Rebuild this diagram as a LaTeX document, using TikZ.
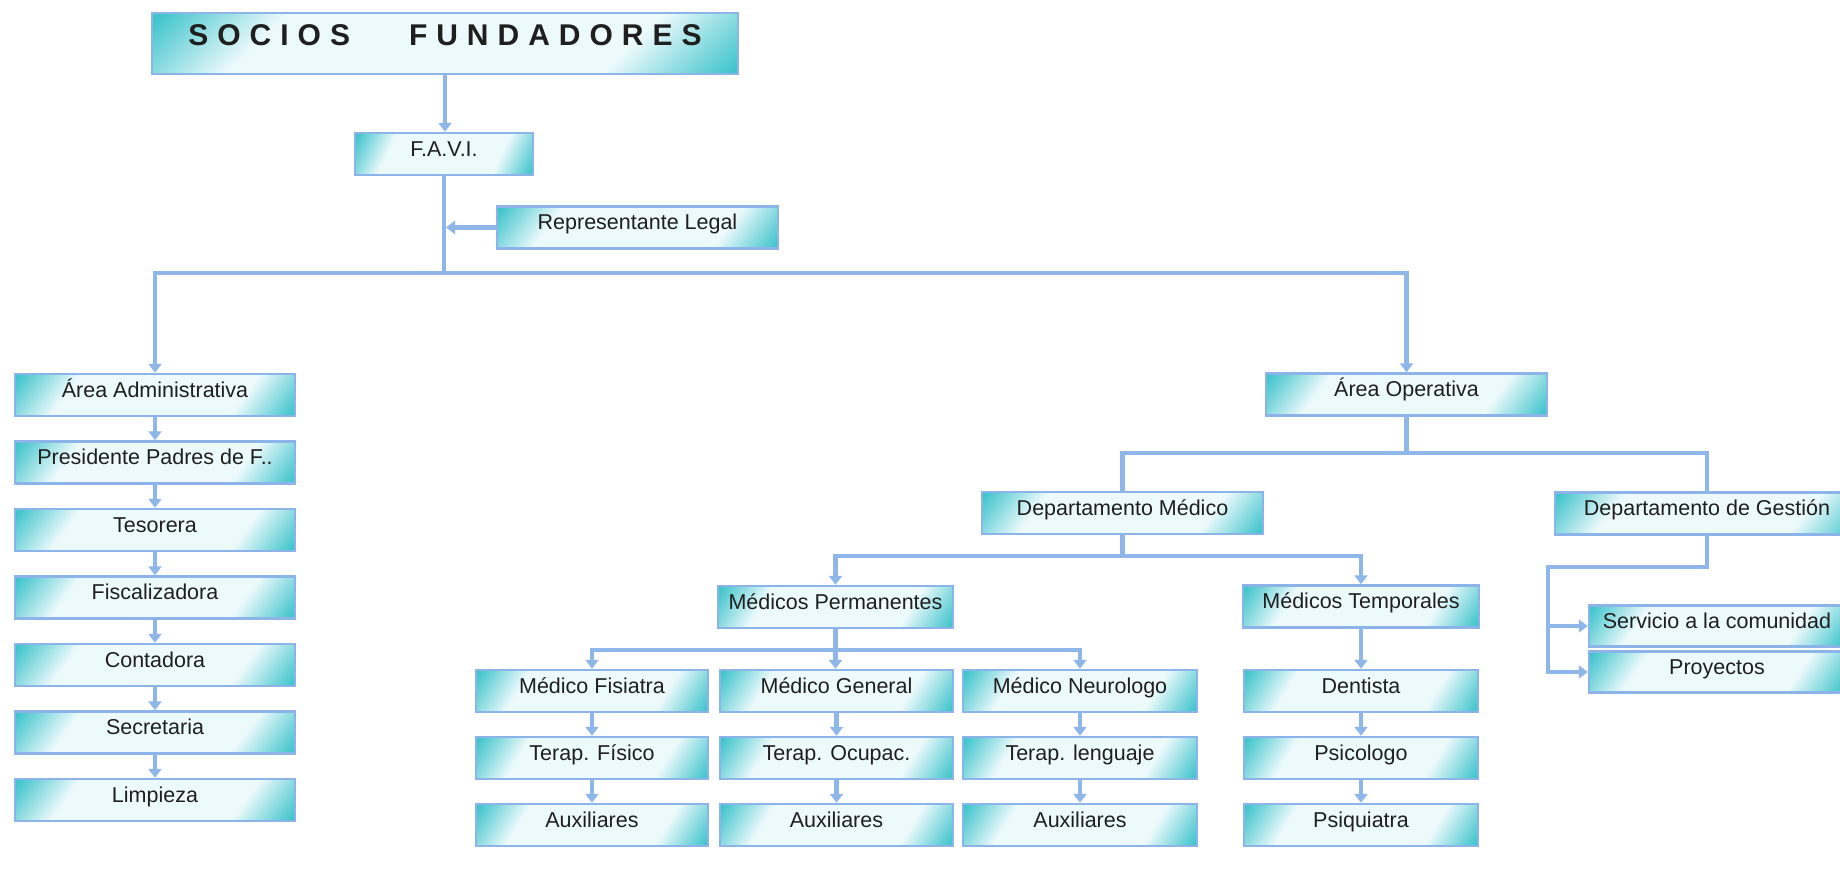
\documentclass[tikz,border=0pt]{standalone}
\usepackage{fontspec}
\setmainfont{Liberation Sans}
\newfontfamily\titlefont[LetterSpace=30]{Liberation Sans}
\usetikzlibrary{arrows.meta}
\definecolor{lnblue}{RGB}{142,182,232}
\definecolor{bdblue}{RGB}{140,180,232}
% diagonal teal - white - teal fill (visible part of a TikZ shading is 25bp..75bp)
\pgfdeclarefunctionalshading{boxf}{\pgfpoint{0bp}{0bp}}{\pgfpoint{100bp}{100bp}}{}{
  50 sub 0.11 mul sub
  dup 34 lt {34 exch sub 11 div} {dup 66 gt {66 sub 11 div} {pop 0} ifelse} ifelse
  dup 1 gt {pop 1} if
  dup 0.25 0.93 sub mul 0.93 add
  exch dup 0.77 0.98 sub mul 0.98 add
  exch 0.80 0.99 sub mul 0.99 add
}
\begin{document}
\begin{tikzpicture}[x=1pt,y=-1pt,
  box/.style={draw=bdblue, line width=2.5pt, shading=boxf,
    minimum height=42pt, inner sep=0pt, text height=10pt, text depth=6pt,
    font=\fontsize{21.5}{24}\selectfont, text=black!88},
  ln/.style={draw=lnblue, line width=4.5pt, line cap=rect},
  arr/.style={draw=lnblue, line width=4.5pt, -{Triangle[width=13pt,length=9pt]}},
]
\useasboundingbox (0,0) rectangle (1840,875);
\fill[white] (0,0) rectangle (1840,875);
\clip (0,0) rectangle (1840,875);

% top
\node[box, minimum width=586pt, minimum height=61pt, text height=12pt, text depth=7pt,
  font=\titlefont\bfseries\fontsize{30}{34}\selectfont] (soc) at (445,43.5) {SOCIOS\hspace{59pt}FUNDADORES};
\node[box, minimum width=178pt] (favi) at (444,154) {F.A.V.I.};
\node[box, minimum width=281pt] (rep) at (637.5,227.5) {Representante Legal};

% left column
\node[box, minimum width=280pt] (aadm) at (155,395) {Área Administrativa};
\node[box, minimum width=280pt] (pres) at (155,462.5) {Presidente Padres de F..};
\node[box, minimum width=280pt] (tes) at (155,530) {Tesorera};
\node[box, minimum width=280pt] (fis) at (155,597.5) {Fiscalizadora};
\node[box, minimum width=280pt] (cont) at (155,665) {Contadora};
\node[box, minimum width=280pt] (sec) at (155,732.5) {Secretaria};
\node[box, minimum width=280pt] (limp) at (155,800) {Limpieza};

% operative area
\node[box, minimum width=281pt] (aop) at (1406.5,394.5) {Área Operativa};
\node[box, minimum width=281pt] (dmed) at (1122.5,513) {Departamento Médico};
\node[box, minimum width=304pt] (dges) at (1707,513.5) {Departamento de Gestión};
\node[box, minimum width=235pt] (mperm) at (835.5,607) {Médicos Permanentes};
\node[box, minimum width=236pt] (mtemp) at (1361,606.5) {Médicos Temporales};

\node[box, minimum width=232pt] (mfis) at (592,691) {Médico Fisiatra};
\node[box, minimum width=233pt] (mgen) at (836.5,691) {Médico General};
\node[box, minimum width=234pt] (mneu) at (1080,691) {Médico Neurologo};
\node[box, minimum width=232pt] (tfis) at (592,758) {Terap. Físico};
\node[box, minimum width=233pt] (tocu) at (836.5,758) {Terap. Ocupac.};
\node[box, minimum width=234pt] (tlen) at (1080,758) {Terap. lenguaje};
\node[box, minimum width=232pt] (aux1) at (592,825) {Auxiliares};
\node[box, minimum width=233pt] (aux2) at (836.5,825) {Auxiliares};
\node[box, minimum width=234pt] (aux3) at (1080,825) {Auxiliares};

\node[box, minimum width=234pt] (dent) at (1361,691) {Dentista};
\node[box, minimum width=234pt] (psico) at (1361,758) {Psicologo};
\node[box, minimum width=234pt] (psiq) at (1361,825) {Psiquiatra};

\node[box, minimum width=256pt, minimum height=41pt] (serv) at (1717,626) {Servicio a la comunidad};
\node[box, minimum width=256pt, minimum height=41pt] (proy) at (1717,672) {Proyectos};

% junctions
\coordinate (j1) at (445,273);
\coordinate (j2) at (1407,453);
\coordinate (j3) at (1125,556);
\coordinate (j4) at (837,650);
\coordinate (g1) at (1548,567);

% connectors
\draw[arr] (soc.south) -- (soc.south |- favi.north);
\draw[ln] (favi.south) -- (favi.south |- j1);
\draw[arr, shorten >=2pt] (rep.west) -- (rep.west -| favi.south);
\draw[ln] (aadm.north |- j1) -- (aop.north |- j1);
\draw[arr] (aadm.north |- j1) -- (aadm.north);
\draw[arr] (aop.north |- j1) -- (aop.north);

\foreach \a/\b in {aadm/pres, pres/tes, tes/fis, fis/cont, cont/sec, sec/limp}
  \draw[arr] (\a.south) -- (\b.north);

\draw[ln] (aop.south) -- (aop.south |- j2);
\draw[ln] (dmed.north |- j2) -- (dges.north |- j2);
\draw[ln] (dmed.north |- j2) -- (dmed.north);
\draw[ln] (dges.north |- j2) -- (dges.north);

\draw[ln] (dmed.south) -- (dmed.south |- j3);
\draw[ln] (mperm.north |- j3) -- (mtemp.north |- j3);
\draw[arr] (mperm.north |- j3) -- (mperm.north);
\draw[arr] (mtemp.north |- j3) -- (mtemp.north);

\draw[arr] (mperm.south) -- (mperm.south |- mgen.north);
\draw[ln] (mfis.north |- j4) -- (mneu.north |- j4);
\draw[arr] (mfis.north |- j4) -- (mfis.north);
\draw[arr] (mneu.north |- j4) -- (mneu.north);

\foreach \a/\b in {mfis/tfis, tfis/aux1, mgen/tocu, tocu/aux2, mneu/tlen, tlen/aux3, mtemp/dent, dent/psico, psico/psiq}
  \draw[arr] (\a.south) -- (\b.north);

\draw[ln] (dges.south) |- (g1) -- (g1 |- proy.west);
\draw[arr] (g1 |- serv.west) -- (serv.west);
\draw[arr] (g1 |- proy.west) -- (proy.west);
\end{tikzpicture}
\end{document}
